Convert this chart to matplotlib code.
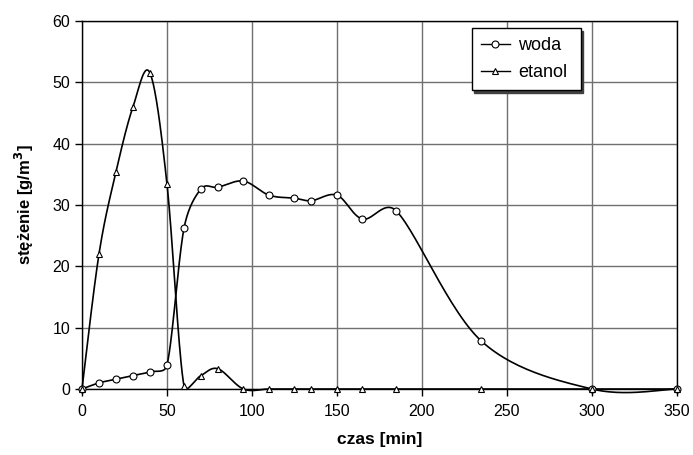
import numpy as np
import matplotlib.pyplot as plt
from matplotlib.lines import Line2D

# data
czas_woda = [0, 10, 20, 30, 40, 50, 60, 70, 80, 95, 110, 125, 135, 150, 165, 185, 235, 300, 350]
woda = [0, 1.0, 1.6, 2.2, 2.8, 3.9, 26.2, 32.6, 32.9, 33.9, 31.6, 31.1, 30.7, 31.6, 27.7, 29.0, 7.8, 0, 0]

czas_etanol = [0, 10, 20, 30, 40, 50, 60, 70, 80, 95, 110, 125, 135, 150, 165, 185, 235, 300, 350]
etanol = [0, 22.0, 35.4, 46.0, 51.5, 33.4, 0.5, 2.2, 3.3, 0, 0, 0, 0, 0, 0, 0, 0, 0, 0]

# approx. pixels per data unit, used so the smoothing behaves like on screen
SX, SY = 1.7, 6.13


def smooth(x, y, n=30):
    """Excel-like smoothed line: Bezier segments, tangent capped at half the segment."""
    p = np.column_stack([np.asarray(x) * SX, np.asarray(y) * SY]).astype(float)
    p = np.vstack([p[0], p, p[-1]])
    t = np.linspace(0, 1, n)[:, None]
    out = []
    for i in range(1, len(p) - 2):
        p0, p1, p2, p3 = p[i - 1], p[i], p[i + 1], p[i + 2]
        half = np.linalg.norm(p2 - p1) / 2
        d1 = (p2 - p0) / 6
        d2 = (p3 - p1) / 6
        if np.linalg.norm(d1) > half:
            d1 = d1 * half / np.linalg.norm(d1)
        if np.linalg.norm(d2) > half:
            d2 = d2 * half / np.linalg.norm(d2)
        c1 = p1 + d1
        c2 = p2 - d2
        seg = ((1 - t) ** 3) * p1 + 3 * ((1 - t) ** 2) * t * c1 \
            + 3 * (1 - t) * t ** 2 * c2 + t ** 3 * p2
        out.append(seg)
    out = np.vstack(out)
    return out[:, 0] / SX, out[:, 1] / SY


plt.rcParams['font.family'] = ['Liberation Sans', 'DejaVu Sans']

fig = plt.figure(figsize=(6.93, 4.55), dpi=100)
ax = fig.add_axes([0.1183, 0.145, 0.8586, 0.809])

for xs, ys, mk in [(czas_woda, woda, 'o'), (czas_etanol, etanol, '^')]:
    sx, sy = smooth(xs, ys)
    ax.plot(sx, sy, color='black', lw=1.2, clip_on=False, zorder=3)
    ax.plot(xs, ys, ls='none', marker=mk, ms=5, mfc='white', mec='black',
            mew=0.8, clip_on=False, zorder=4)

ax.set_xlim(0, 350)
ax.set_ylim(0, 60)
ax.set_xticks(np.arange(0, 351, 50))
ax.set_yticks(np.arange(0, 61, 10))
ax.grid(True, color='#707070', lw=1.0)
ax.set_axisbelow(True)
for s in ax.spines.values():
    s.set_color('black')
    s.set_linewidth(1.0)
ax.tick_params(direction='out', length=5, width=1, labelsize=11.5, colors='black')
ax.tick_params(axis='x', pad=6)

ax.set_xlabel('czas [min]', fontsize=12.5, fontweight='bold', labelpad=9)
ax.set_ylabel('stężenie [g/m$^\\mathbf{3}$]', fontsize=12, fontweight='bold', labelpad=12)

handles = [
    Line2D([], [], color='black', lw=1, marker='o', ms=5, mfc='white', mec='black', mew=0.8),
    Line2D([], [], color='black', lw=1, marker='^', ms=5, mfc='white', mec='black', mew=0.8),
]
leg = ax.legend(handles, ['woda', 'etanol'], loc='upper left', mode='expand',
                bbox_to_anchor=(0.655, 0.807, 0.183, 0.174), fontsize=13, frameon=True,
                fancybox=False, shadow={'color': '#404040', 'alpha': 1.0},
                handlelength=1.6, handletextpad=0.45,
                borderpad=0.5, labelspacing=0.55, borderaxespad=0)
leg.get_frame().set_edgecolor('black')
leg.get_frame().set_linewidth(1.0)

fig.savefig('out.png', dpi=100)
